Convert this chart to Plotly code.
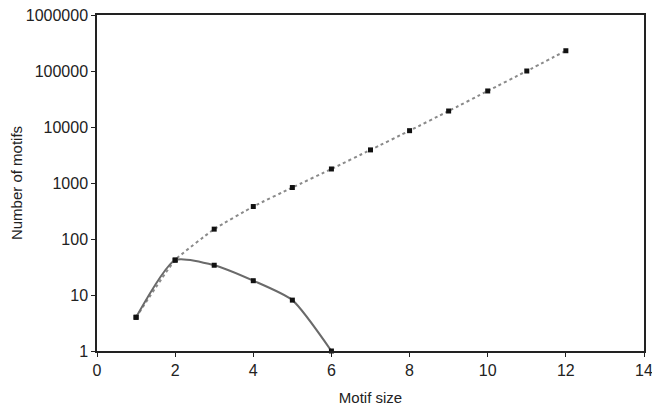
import plotly.graph_objects as go

motif_size_all = [1, 2, 3, 4, 5, 6, 7, 8, 9, 10, 11, 12]
motifs_all = [4, 42, 150, 380, 830, 1780, 3900, 8600, 19300, 44000, 100000, 230000]

motif_size_found = [1, 2, 3, 4, 5, 6]
motifs_found = [4, 42, 34, 18, 8.1, 1]

y_tickvals = [1, 10, 100, 1000, 10000, 100000, 1000000]
y_ticktext = ["1", "10", "100", "1000", "10000", "100000", "1000000"]

fig = go.Figure()
fig.add_trace(go.Scatter(
    x=motif_size_all, y=motifs_all, mode="lines+markers",
    line=dict(color="#8a8a8a", width=2, dash="dot", shape="spline", smoothing=0.4),
    marker=dict(symbol="square", size=5, color="#111111"),
    showlegend=False, cliponaxis=False))
fig.add_trace(go.Scatter(
    x=motif_size_found, y=motifs_found, mode="lines+markers",
    line=dict(color="#6a6a6a", width=2, shape="spline", smoothing=0.6),
    marker=dict(symbol="square", size=5, color="#111111"),
    showlegend=False, cliponaxis=False))

axis_font = dict(family="Liberation Sans, Arial, sans-serif", size=16, color="#222")
fig.update_layout(
    width=652, height=406,
    margin=dict(l=97, r=8, t=15, b=55),
    paper_bgcolor="white", plot_bgcolor="white",
    font=axis_font,
    xaxis=dict(range=[0, 14], dtick=2, tick0=0, showgrid=False, zeroline=False,
               showline=True, linecolor="#222", linewidth=1.5, mirror=True,
               ticks="outside", ticklen=4, tickcolor="#222", automargin=False,
               ticklabeloverflow="allow",
               title=dict(text="Motif size", font=dict(size=15), standoff=16)),
    yaxis=dict(type="log", range=[0, 6], tickvals=y_tickvals, ticktext=y_ticktext,
               showgrid=False, zeroline=False,
               showline=True, linecolor="#222", linewidth=1.5, mirror=True,
               ticks="outside", ticklen=4, tickcolor="#222", automargin=False,
               ticklabeloverflow="allow",
               title=dict(text="Number of motifs", font=dict(size=15), standoff=0)),
)
fig.write_html("out.html", config={"displayModeBar": False},
               post_script="document.body.style.margin='0';document.body.style.overflow='hidden';")
